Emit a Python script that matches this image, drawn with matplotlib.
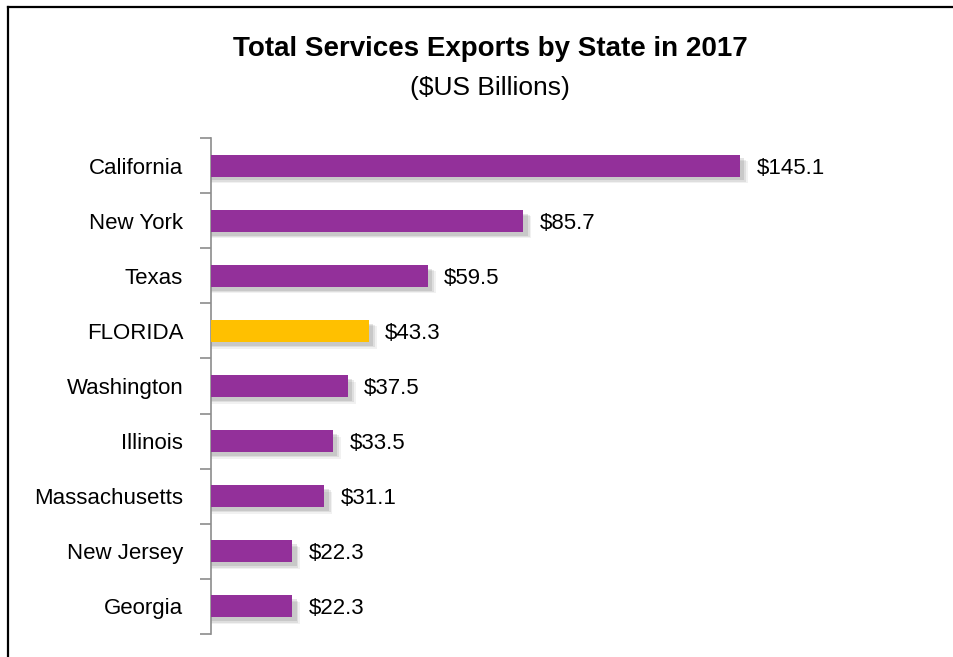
import numpy as np
import matplotlib.pyplot as plt
from matplotlib.lines import Line2D

states = ["California", "New York", "Texas", "FLORIDA", "Washington",
          "Illinois", "Massachusetts", "New Jersey", "Georgia"]
exports = [145.1, 85.7, 59.5, 43.3, 37.5, 33.5, 31.1, 22.3, 22.3]
highlight = "FLORIDA"

PURPLE = "#93309A"
GOLD = "#FFC000"

plt.rcParams['font.family'] = ['Liberation Sans', 'DejaVu Sans']

W, H = 954, 657
fig = plt.figure(figsize=(W / 100, H / 100), dpi=100)
ax = fig.add_axes([211 / W, 1 - 634 / H, (900 - 211) / W, (634 - 138) / H])

y = np.arange(len(states))
colors = [GOLD if s == highlight else PURPLE for s in states]

# soft drop shadow
for k, a in enumerate([0.14, 0.10, 0.07]):
    ax.barh(y + 0.07 + 0.025 * k, np.array(exports) + 1.2 + 0.5 * k, height=0.40,
            color="#404040", alpha=a, zorder=1, linewidth=0)
ax.barh(y, exports, height=0.40, color=colors, zorder=3, linewidth=0)

for yi, v in zip(y, exports):
    ax.text(v + 4.5, yi, f"${v:.1f}", va="center_baseline", ha="left",
            fontsize=16, zorder=4)

ax.set_xlim(0, 189)
ax.set_ylim(len(states) - 0.5, -0.5)
ax.set_yticks(y)
ax.set_yticklabels(states, fontsize=16)
ax.tick_params(axis="y", which="major", length=0, pad=20)
ax.set_yticks(np.arange(-0.5, len(states)), minor=True)
ax.tick_params(axis="y", which="minor", length=8, color="#8C8C8C", width=1.2)
ax.set_xticks([])
for side in ["top", "right", "bottom"]:
    ax.spines[side].set_visible(False)
ax.spines["left"].set_color("#8C8C8C")
ax.spines["left"].set_linewidth(1.2)

fig.text(490 / W, 1 - 49 / H, "Total Services Exports by State in 2017",
         ha="center", va="center", fontsize=20, fontweight="bold")
fig.text(490 / W, 1 - 88 / H, "($US Billions)", ha="center", va="center", fontsize=19)

# outer frame (top and left only)
fig.add_artist(Line2D([8 / W, 1], [1 - 7 / H, 1 - 7 / H], color="black", lw=1.6,
                      transform=fig.transFigure))
fig.add_artist(Line2D([8 / W, 8 / W], [0, 1 - 7 / H], color="black", lw=1.6,
                      transform=fig.transFigure))

fig.savefig("out.png", dpi=100)
